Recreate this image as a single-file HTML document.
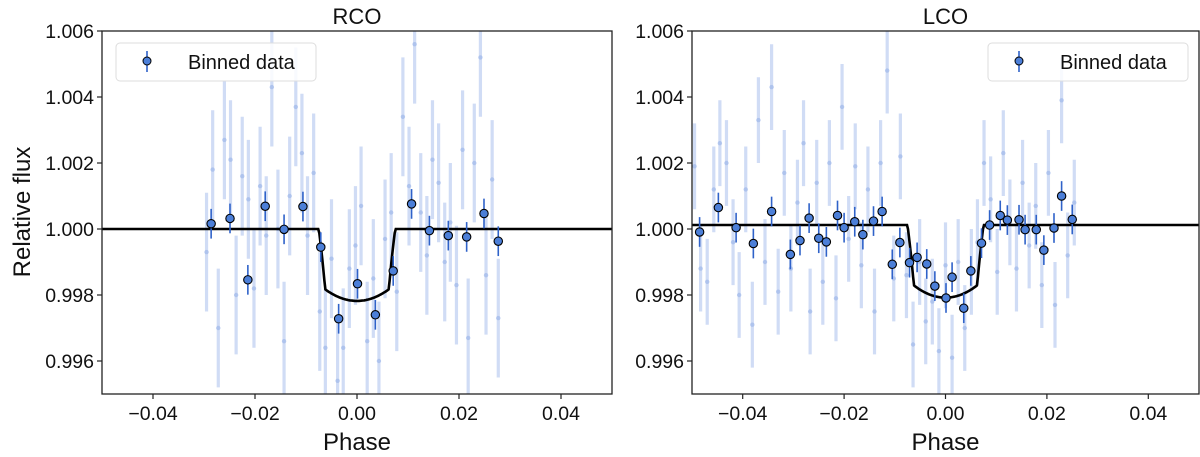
<!DOCTYPE html>
<html><head><meta charset="utf-8"><style>
html,body{margin:0;padding:0;background:#fff;}
svg{display:block;font-family:"Liberation Sans",Arial,sans-serif;}
</style></head><body>
<svg id="chart" width="1200" height="457" viewBox="0 0 1200 457"></svg>
<script>
const xTicks = [-0.04, -0.02, 0.00, 0.02, 0.04];
const xTickLabels = ["\u22120.04", "\u22120.02", "0.00", "0.02", "0.04"];
const yTicks = [0.996, 0.998, 1.000, 1.002, 1.004, 1.006];
const yTickLabels = ["0.996", "0.998", "1.000", "1.002", "1.004", "1.006"];

const rcoRawPhase = [-0.0295,-0.0283,-0.0272,-0.0260,-0.0248,-0.0237,-0.0225,-0.0213,-0.0202,-0.0190,-0.0178,-0.0167,-0.0155,-0.0143,-0.0132,-0.0120,-0.0108,-0.0097,-0.0085,-0.0073,-0.0062,-0.0050,-0.0038,-0.0027,-0.0015,-0.0003,0.0008,0.0020,0.0032,0.0043,0.0055,0.0067,0.0078,0.0090,0.0102,0.0113,0.0125,0.0137,0.0148,0.0160,0.0172,0.0183,0.0195,0.0207,0.0218,0.0230,0.0242,0.0253,0.0265,0.0277];
const rcoRawFlux = [0.99930,1.00180,0.99700,1.00270,1.00210,0.99800,1.00160,1.00090,0.99820,1.00130,0.99980,1.00430,1.00000,0.99660,1.00100,1.00370,1.00230,0.99980,1.00170,0.99750,0.99640,0.99910,0.99540,0.99640,0.99880,0.99950,1.00070,0.99660,0.99850,0.99600,0.99970,1.00050,0.99810,1.00340,1.00130,1.00560,1.00050,0.99920,1.00210,1.00140,0.99900,1.00020,0.99830,1.00240,0.99670,1.00200,1.00520,0.99860,1.00150,0.99730];
const rcoBinPhase = [-0.0286,-0.0249,-0.0214,-0.0180,-0.0143,-0.0106,-0.0071,-0.0036,0.0001,0.0036,0.0071,0.0107,0.0142,0.0179,0.0215,0.0249,0.0277];
const rcoBinFlux = [1.00016,1.00032,0.99846,1.00069,0.99999,1.00068,0.99945,0.99728,0.99834,0.99740,0.99873,1.00076,0.99995,0.99980,0.99976,1.00047,0.99963];

const lcoRawPhase = [-0.0495,-0.0483,-0.0470,-0.0457,-0.0445,-0.0432,-0.0419,-0.0407,-0.0394,-0.0381,-0.0369,-0.0356,-0.0343,-0.0330,-0.0318,-0.0305,-0.0292,-0.0280,-0.0267,-0.0254,-0.0242,-0.0229,-0.0216,-0.0204,-0.0191,-0.0178,-0.0166,-0.0153,-0.0140,-0.0128,-0.0115,-0.0102,-0.0089,-0.0077,-0.0064,-0.0051,-0.0039,-0.0026,-0.0013,0.0000,0.0013,0.0025,0.0038,0.0051,0.0063,0.0076,0.0089,0.0102,0.0114,0.0127,0.0140,0.0152,0.0165,0.0178,0.0190,0.0203,0.0216,0.0229,0.0241,0.0254];
const lcoRawFlux = [1.00190,0.99880,0.99840,1.00120,1.00260,1.00200,0.99960,0.99800,1.00120,0.99710,1.00330,0.99900,1.00430,0.99810,1.00170,0.99880,1.00080,1.00260,0.99750,1.00140,0.99840,1.00200,0.99790,1.00370,0.99970,1.00190,0.99890,1.00120,0.99750,1.00200,1.00480,0.99850,1.00220,0.99860,0.99650,0.99900,0.99720,0.99780,0.99630,0.99890,0.99610,0.99900,0.99700,0.99870,0.99960,1.00200,1.00090,0.99870,1.00230,1.00020,0.99880,1.00140,0.99950,1.00070,0.99830,1.00170,0.99770,1.00390,0.99920,1.00080];
const lcoBinPhase = [-0.0485,-0.0448,-0.0413,-0.0379,-0.0343,-0.0306,-0.0287,-0.0269,-0.0250,-0.0235,-0.0213,-0.0200,-0.0179,-0.0163,-0.0142,-0.0125,-0.0105,-0.0090,-0.0071,-0.0056,-0.0037,-0.0021,0.0001,0.0013,0.0036,0.0050,0.0071,0.0087,0.0108,0.0122,0.0145,0.0157,0.0179,0.0194,0.0214,0.0229,0.0250];
const lcoBinFlux = [0.99991,1.00065,1.00004,0.99956,1.00053,0.99923,0.99965,1.00033,0.99972,0.99961,1.00041,1.00004,1.00022,0.99983,1.00024,1.00053,0.99893,0.99959,0.99898,0.99914,0.99894,0.99827,0.99791,0.99854,0.99760,0.99873,0.99957,1.00012,1.00041,1.00027,1.00028,0.99998,0.99998,0.99936,1.00003,1.00100,1.00029];

// model params: [baseline, edgeFlux, centerFlux]
const rcoModel = [1.00000, 0.99818, 0.99782];
const lcoModel = [1.00012, 0.99830, 0.99792];

const NS = "http://www.w3.org/2000/svg";
const svg = document.getElementById('chart');
function mk(tag, attrs, parent){const e=document.createElementNS(NS,tag);for(const k in attrs)e.setAttribute(k,attrs[k]);(parent||svg).appendChild(e);return e;}

function panel(cfg){
  const x0=cfg.x0,x1=cfg.x1,yTop=31,yBot=394;
  const sx=v=>x0+(v+0.05)/0.1*(x1-x0);
  const sy=v=>yBot-(v-0.995)/0.011*(yBot-yTop);
  const g=mk('g',{});
  
  
  mk('clipPath',{id:cfg.name+'-clip'},g).appendChild(Object.assign(document.createElementNS(NS,'rect'),{}));
  const cr=g.lastChild.firstChild;cr.setAttribute('x',x0);cr.setAttribute('y',yTop);cr.setAttribute('width',x1-x0);cr.setAttribute('height',yBot-yTop);
  const plot=mk('g',{'clip-path':'url(#'+cfg.name+'-clip)'},g);
  
  
  // raw data
  for(let i=0;i<cfg.rawP.length;i++){
    const x=sx(cfg.rawP[i]),y=sy(cfg.rawF[i]);
    const l=mk('line',{x1:x,x2:x,y1:sy(cfg.rawF[i]+cfg.rawErr),y2:sy(cfg.rawF[i]-cfg.rawErr),stroke:'#a9c0ec','stroke-width':3.2,'stroke-opacity':0.55},plot);
    
    
    const c=mk('circle',{cx:x,cy:y,r:2.2,fill:'#9fb8ea','fill-opacity':0.7},plot);
    
    
  }
  // model
  const m=cfg.model;let d='';
  for(let p=-0.05;p<=0.0501;p+=0.0002){
    const a=Math.abs(p);let f;
    if(a>=0.0075)f=m[0];
    else if(a>=0.0063)f=m[1]+(m[0]-m[1])*Math.pow((a-0.0063)/0.0012,0.8);
    else f=m[2]+(m[1]-m[2])*Math.pow(a/0.0063,2);
    d+=(d?'L':'M')+sx(p).toFixed(1)+','+sy(f).toFixed(1);
  }
  const ml=mk('path',{d:d,fill:'none',stroke:'#000','stroke-width':2.6},plot);
  
  
  // binned
  for(let i=0;i<cfg.binP.length;i++){
    const x=sx(cfg.binP[i]),y=sy(cfg.binF[i]);
    const l=mk('line',{x1:x,x2:x,y1:sy(cfg.binF[i]+0.00045),y2:sy(cfg.binF[i]-0.00045),stroke:'#2f62c9','stroke-width':1.6},plot);
    
    
    const c=mk('circle',{cx:x,cy:y,r:4.2,fill:'#4c7fd8',stroke:'#000','stroke-width':1.1},plot);
    
    
  }
  const fr=mk('rect',{x:x0,y:yTop,width:x1-x0,height:yBot-yTop,fill:'none',stroke:'#222','stroke-width':1.3},g);
  
  
  xTicks.forEach((t,i)=>{
    const x=sx(t);
    const tk=mk('line',{x1:x,x2:x,y1:yBot,y2:yBot+5,stroke:'#222','stroke-width':1.2},g);
    
    
    const tx=mk('text',{x:x,y:yBot+26,'text-anchor':'middle','font-size':19.5,fill:'#111'},g);
    tx.textContent=xTickLabels[i];
    
    
  });
  yTicks.forEach((t,i)=>{
    const y=sy(t);
    const tk=mk('line',{x1:x0-5,x2:x0,y1:y,y2:y,stroke:'#222','stroke-width':1.2},g);
    
    
    const tx=mk('text',{x:x0-8,y:y+7,'text-anchor':'end','font-size':19.5,fill:'#111'},g);
    tx.textContent=yTickLabels[i];
    
    
  });
  const ti=mk('text',{x:(x0+x1)/2,y:24,'text-anchor':'middle','font-size':22,fill:'#111'},g);
  ti.textContent=cfg.title;
  
  
  const xl=mk('text',{x:(x0+x1)/2,y:450,'text-anchor':'middle','font-size':24,fill:'#111'},g);
  xl.textContent='Phase';
  
  
  // legend
  const lg=mk('g',{},g);
  
  
  mk('rect',{x:cfg.lx,y:43,width:200,height:38,rx:4,fill:'#fff','fill-opacity':0.85,stroke:'#ddd','stroke-width':1},lg);
  mk('line',{x1:cfg.lx+31,x2:cfg.lx+31,y1:51,y2:72,stroke:'#2f62c9','stroke-width':1.6},lg);
  mk('circle',{cx:cfg.lx+31,cy:61,r:4,fill:'#4c7fd8',stroke:'#000','stroke-width':1},lg);
  const lt=mk('text',{x:cfg.lx+72,y:69,'font-size':20,fill:'#111'},lg);
  lt.textContent='Binned data';
  
  
}
panel({name:'rco',title:'RCO',x0:102,x1:612,rawP:rcoRawPhase,rawF:rcoRawFlux,rawErr:0.0018,binP:rcoBinPhase,binF:rcoBinFlux,model:rcoModel,lx:116});
panel({name:'lco',title:'LCO',x0:692,x1:1199,rawP:lcoRawPhase,rawF:lcoRawFlux,rawErr:0.0013,binP:lcoBinPhase,binF:lcoBinFlux,model:lcoModel,lx:988});
const yl=mk('text',{x:0,y:0,'text-anchor':'middle','font-size':24,fill:'#111',transform:'translate(30,212) rotate(-90)'});
yl.textContent='Relative flux';


</script>
</body></html>
